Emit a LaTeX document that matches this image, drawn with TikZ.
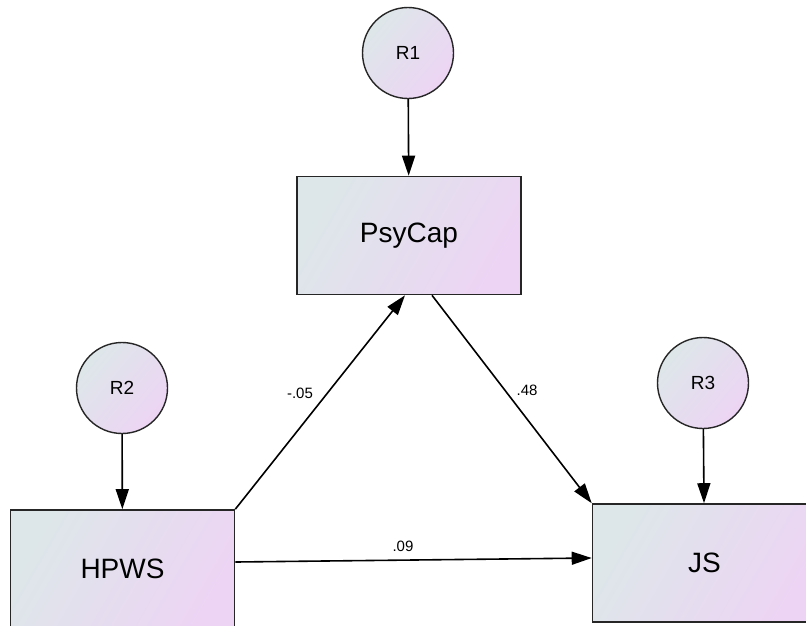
\documentclass[tikz,border=0pt]{standalone}
\usepackage{fontspec}
\setmainfont{Liberation Sans}
\usetikzlibrary{arrows.meta}
\definecolor{shadeL}{RGB}{221,231,233}
\definecolor{shadeR}{RGB}{237,212,244}
\tikzset{
	var/.style={draw=black!85, line width=1.6pt, left color=shadeL, right color=shadeR, shading angle=60, minimum width=224pt, minimum height=118pt, inner sep=0pt, font=\fontsize{28}{31}\selectfont},
	res/.style={draw=black!85, line width=1.4pt, circle, left color=shadeL, right color=shadeR, shading angle=50, minimum size=91pt, inner sep=0pt, font=\fontsize{19}{22}\selectfont},
	path/.style={line width=1.6pt, -{Triangle[length=20pt,width=13pt]}},
	coef/.style={font=\fontsize{15}{18}\selectfont}
}

\begin{document}
\begin{tikzpicture}[x=1pt, y=-1pt]
		%%%%% START %%%%%
		
		\clip (0, 0) rectangle (806, 625);
		\fill[white] (0, 0) rectangle (806, 625);
		
		\node[res] (r1) at (408, 53) {R1};
		\node[res] (r2) at (122, 388) {R2};
		\node[res] (r3) at (703, 383) {R3};
		
		\node[var] (psycap) at (409, 235.5) {PsyCap};
		\node[var] (hpws) at (122.5, 569) {HPWS};
		\node[var] (js) at (704.5, 563) {JS};
		
		\draw[path] (r1) -- (psycap);
		\draw[path] (r2) -- (hpws);
		\draw[path] (r3) -- (js);
		
		\draw[path] (hpws.north east) -- ([xshift=-4pt]psycap.south);
		\draw[path] ([xshift=23pt]psycap.south) -- (js.north west);
		\draw[path] ([yshift=7pt]hpws.east) -- ([yshift=5pt]js.west);
		
		\node[coef] (c1) at (300, 393) {-.05};
		\node[coef] (c2) at (527, 390) {.48};
		\node[coef] (c3) at (403, 546) {.09};
		
		%%%%% END %%%%%
	\end{tikzpicture}
\end{document}
